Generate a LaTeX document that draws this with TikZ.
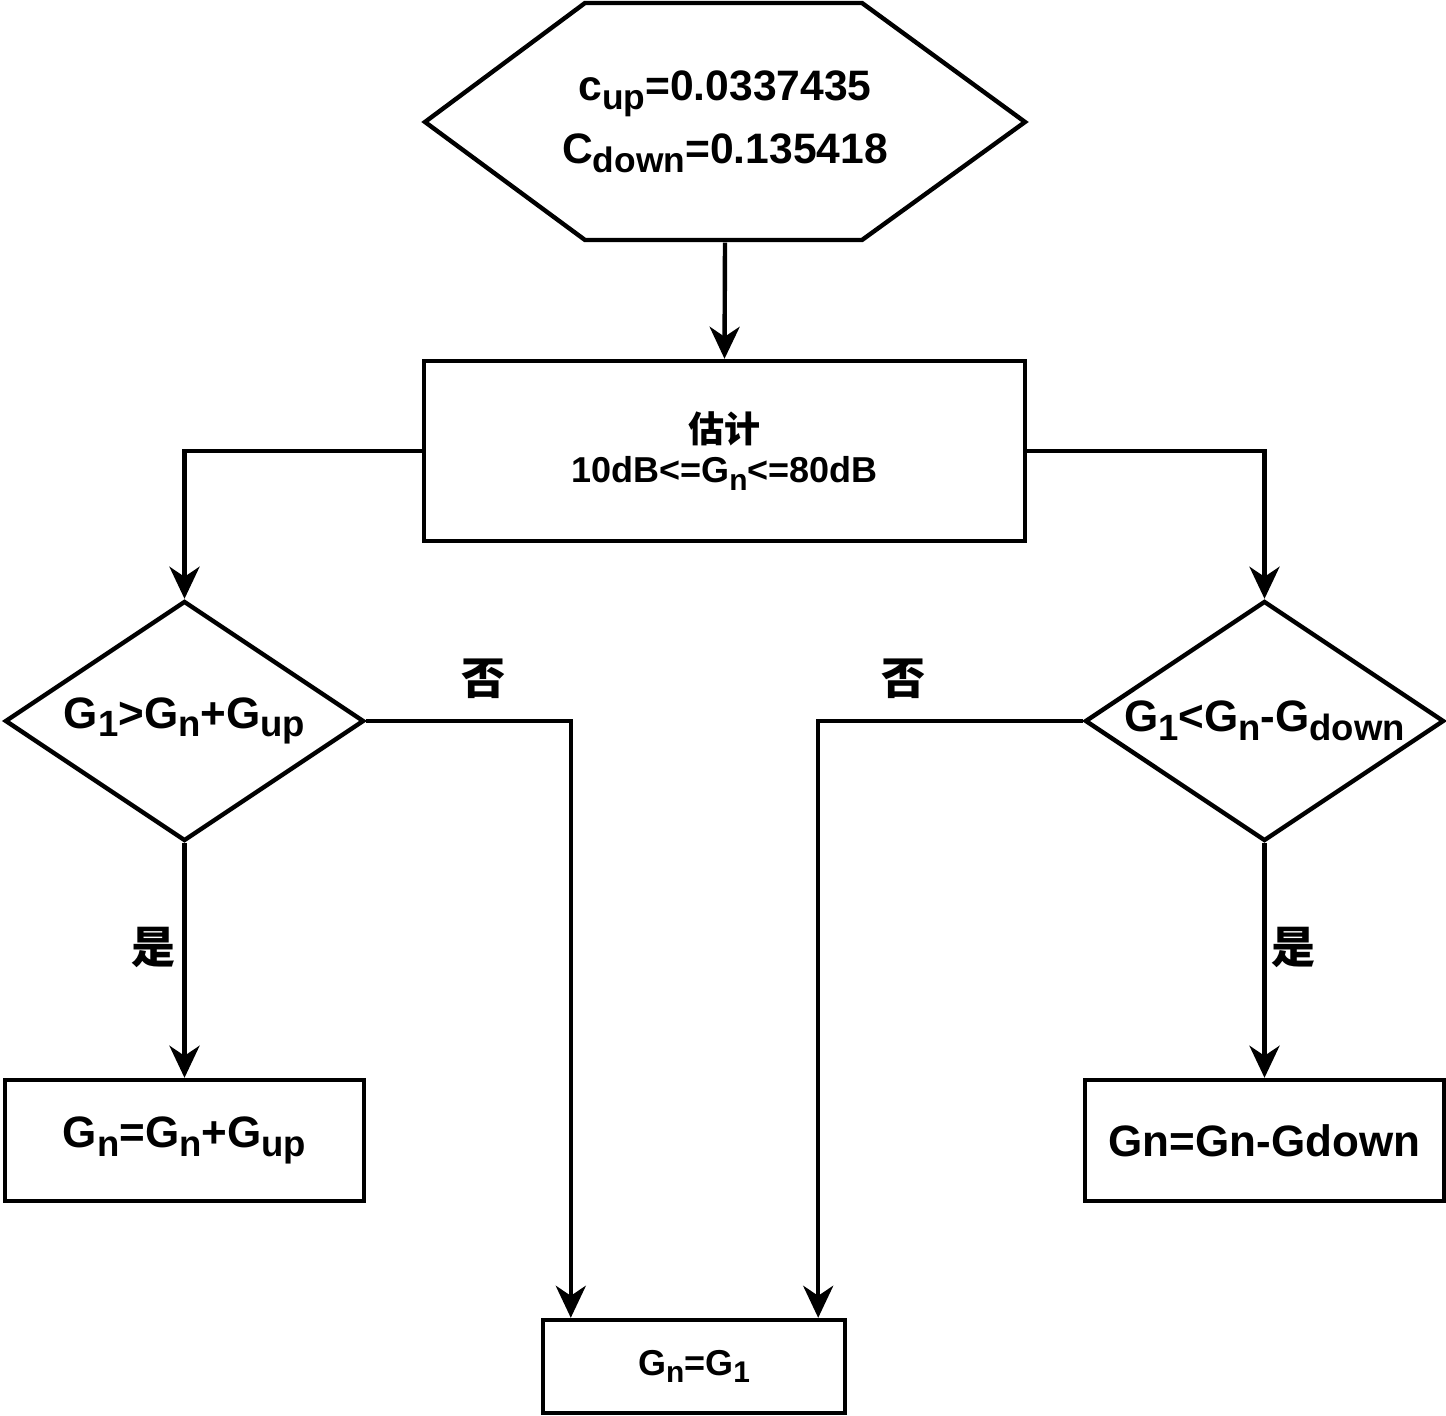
\documentclass[tikz,border=0pt]{standalone}
\usepackage{graphicx}
\usepackage{fontspec}
\setmainfont{Liberation Sans}
\newfontfamily\cjk{Noto Sans CJK SC}
\usetikzlibrary{shapes.geometric,arrows.meta}
\newcommand{\subtxt}[1]{\raisebox{-0.2em}{\scalebox{0.83}{#1}}}

\begin{document}
\begin{tikzpicture}[x=0.5pt, y=-0.5pt, line width=2.2pt,
  every node/.style={font=\bfseries\fontsize{22}{26}\selectfont, inner sep=0pt},
  box/.style={draw, rectangle, minimum width=179.5pt, minimum height=60.5pt},
  test/.style={draw, diamond, minimum width=179.5pt, minimum height=120pt},
  flow/.style={-{Stealth[length=16pt, width=15pt, inset=5pt]}}]
\useasboundingbox (0,0) rectangle (1446,1416);
\draw (425,122) -- (585,3) -- (862,3) -- (1025,122) -- (862,240) -- (585,240) -- cycle; % the hexagon round the start values
\node (init) at (725,122) [minimum width=300pt, minimum height=118.5pt, align=center,
  font=\bfseries\fontsize{21.3}{31.5}\selectfont] {c\subtxt{up}=0.0337435\\C\subtxt{down}=0.135418};
\node[box, minimum width=300.5pt, minimum height=90pt, align=center, font=\bfseries\fontsize{18}{20}\selectfont] (est) at (724.5,451)
  {{\cjk 估计}\\10dB<=G\subtxt{n}<=80dB};

% the two tests, text put in as a label
\node[test, label={[name=t1]center:G\subtxt{1}>G\subtxt{n}+G\subtxt{up}}] (d1) at (184.5,721) {};
\node[test, label={[name=t2]center:G\subtxt{1}<G\subtxt{n}-G\subtxt{down}}] (d2) at (1264.5,721) {};

\node[box] (r1) at (184.5,1140.5) {G\subtxt{n}=G\subtxt{n}+G\subtxt{up}};
\node[box] (r2) at (1264.5,1140.5) {Gn=Gn-Gdown};
\node[box, minimum width=151pt, minimum height=46.5pt, font=\bfseries\fontsize{18}{20}\selectfont] (bot) at (694,1366.5)
  {G\subtxt{n}=G\subtxt{1}};

\node (yes1) at (153,947) {\cjk 是};
\node (yes2) at (1293,947) {\cjk 是};
\node (no1) at (483,679) {\cjk 否};
\node (no2) at (903,679) {\cjk 否};

\draw[flow] (init.south) -- (est.north);
\draw[flow] (est.west) -| (d1.north);
\draw[flow] (est.east) -| (d2.north);
\draw[flow] (d1.south) -- (r1.north);
\draw[flow] (d2.south) -- (r2.north);
\draw[flow] (d1.east) -| ([xshift=15pt]bot.north west); % the two no branches meet in the bottom box
\draw[flow] (d2.west) -| ([xshift=-14.5pt]bot.north east);
\end{tikzpicture}
\end{document}
